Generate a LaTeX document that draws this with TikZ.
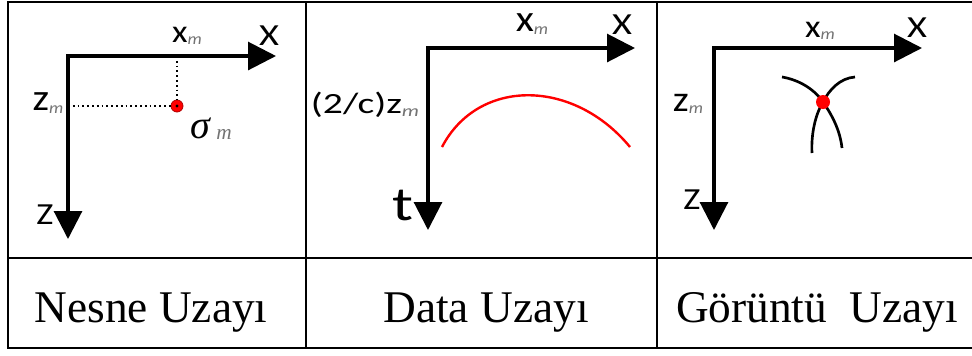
\documentclass[tikz,border=0pt]{standalone}
\usepackage{fontspec}
\setmainfont{Liberation Serif}
\newfontfamily\carl{Carlito}
\usetikzlibrary{arrows.meta}
\definecolor{subgray}{gray}{0.45}
\newcommand\subm[1][12]{\raisebox{-2pt}{\fontsize{#1}{#1}\selectfont\itshape\color{subgray}m}}
\begin{document}
\begin{tikzpicture}[x=0.75pt,y=-0.75pt,
  frame/.style={line width=1.6pt},
  axis/.style={line width=2.3pt, line cap=rect, -{Triangle[length=21pt,width=21pt]}},
  dots/.style={line width=1.6pt, dash pattern=on 1.4pt off 2.2pt},
  lab/.style={inner sep=0pt, xscale=1.25, font=\carl\fontsize{23}{26}\selectfont},
  sublab/.style={inner sep=0pt, xscale=1.12, font=\carl\fontsize{24}{26}\selectfont},
  bottomlab/.style={inner sep=0pt, anchor=base, font=\fontsize{34}{40}\selectfont},
  branch/.style={line width=2pt}]
\useasboundingbox (0,0) rectangle (972,355);
% table frame
\draw[frame] (8,2) rectangle (990,348);
\draw[frame] (8,258) -- (990,258);
\draw[frame] (306,2) -- (306,348);
\draw[frame] (657,2) -- (657,348);

% ---------- panel 1 ----------
\coordinate (o1) at (68,56);
\coordinate (xt1) at (276,56);
\coordinate (zt1) at (68,239);
\draw[axis] (o1) -- (xt1);
\draw[axis] (o1) -- (zt1);
\node[circle, fill=red, draw=red!70!black, line width=0.6pt, minimum size=9pt, inner sep=0pt] (d1) at (177,106) {};
\fill (d1.center) circle (1.6);
\draw[dots] (o1 -| d1) -- (d1);
\draw[dots] (o1 |- d1) -- (d1);
\node[lab] (X1) at (269,36) {X};
\node[sublab] (xm1) at (187,36) {x\subm};
\node[sublab, font=\carl\fontsize{28}{28}\selectfont] (zm1) at (48,103) {z\subm};
\node[lab, xscale=0.95] (Z1) at (45,215) {Z};
\node[inner sep=0pt] (s1) at (211,129) {\fontsize{30}{32}\selectfont\itshape σ\,\raisebox{-1pt}{\fontsize{16}{16}\selectfont\color{subgray}m}};

% ---------- panel 2 ----------
\coordinate (o2) at (428,48);
\coordinate (xt2) at (635,48);
\coordinate (zt2) at (428,230);
\draw[axis] (o2) -- (xt2);
\draw[axis] (o2) -- (zt2);
\node[lab] (X2) at (622,25) {X};
\node[sublab, font=\carl\fontsize{28}{28}\selectfont] (xm2) at (532,24) {x\subm};
\node[inner sep=0pt, xscale=1.35, font=\carl\fontsize{22}{24}\selectfont] (zm2) at (365,105) {(2/c)z\subm};
\node[inner sep=0pt, xscale=1.3, font=\carl\fontsize{36}{38}\selectfont] (t2) at (403,205) {t};
\coordinate (a1) at (442,147);
\coordinate (a2) at (630,147);
\draw[red, line width=1.8pt] (a1) .. controls (478,78) and (573,78) .. (a2);

% ---------- panel 3 ----------
\coordinate (o3) at (714,48);
\coordinate (xt3) at (922,48);
\coordinate (zt3) at (714,230);
\draw[axis] (o3) -- (xt3);
\draw[axis] (o3) -- (zt3);
\node[lab] (X3) at (917,28) {X};
\node[sublab] (xm3) at (820,31) {x\subm};
\node[sublab, font=\carl\fontsize{27}{28}\selectfont] (zm3) at (688,104) {z\subm};
\node[lab, xscale=0.95] (Z3) at (692,200) {Z};
\coordinate (c3) at (823,102);
\coordinate (ul) at (782,77);
\coordinate (ur) at (855,77);
\coordinate (ll) at (812,153);
\coordinate (lr) at (842,148);
\draw[branch] (ul) .. controls (800,80) and (815,90) .. (c3);
\draw[branch] (ur) .. controls (840,78) and (829,90) .. (c3);
\draw[branch] (c3) .. controls (815,115) and (811,135) .. (ll);
\draw[branch] (c3) .. controls (832,115) and (840,130) .. (lr);
\node[circle, fill=red, minimum size=10.5pt, inner sep=0pt] (d3) at (c3) {};

% ---------- bottom labels ----------
\node[bottomlab] (l1) at (151,322) {Nesne Uzayı};
\node[bottomlab] (l2) at (486,322) {Data Uzayı};
\node[bottomlab] (l3) at (817,322) {Görüntü\ \ Uzayı};
\end{tikzpicture}
\end{document}
